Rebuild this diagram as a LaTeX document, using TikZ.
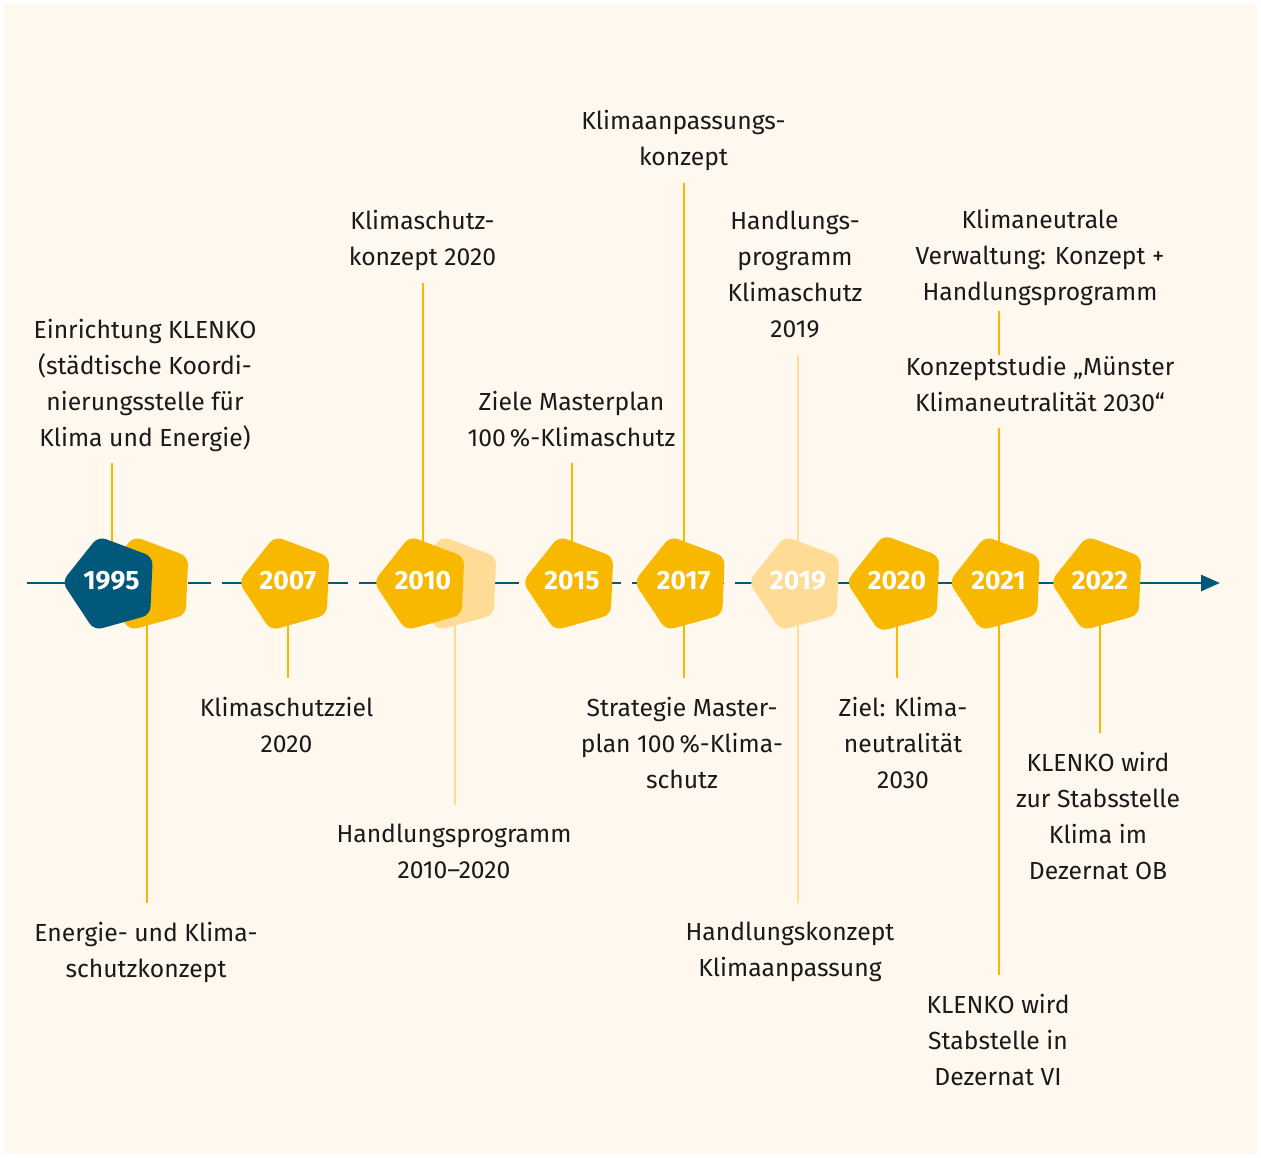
\documentclass[tikz,border=0pt]{standalone}
\usepackage{fontspec}
\setmainfont{Fira Sans}
\usetikzlibrary{shapes.geometric,arrows.meta}
\definecolor{bgc}{HTML}{FEF8EE}
\definecolor{ylw}{HTML}{F9B800}
\definecolor{lylw}{HTML}{FEDC95}
\definecolor{blu}{HTML}{02587A}
\definecolor{txt}{HTML}{1A1A1A}
\pgfdeclarelayer{bg}\pgfdeclarelayer{back}\pgfsetlayers{bg,back,main}
\begin{document}
\begin{tikzpicture}[x=1pt,y=-1pt,
  pent/.style={regular polygon, regular polygon sides=5, shape border rotate=87.5,
    minimum size=99pt, inner sep=0pt, rounded corners=8pt, fill=ylw, text=white,
    font=\fontsize{26.5}{30}\selectfont\bfseries, text depth=8pt},
  lbl/.style={align=center, inner sep=0pt, text=txt, font=\fontsize{24.7}{36}\selectfont,
    execute at begin node=\strut, execute at end node=\strut},
  conn/.style={draw=ylw, line width=2pt},
  lconn/.style={draw=lylw, line width=2pt},
  axisl/.style={draw=blu, line width=2.6pt},
  up/.style={shorten >=6pt},
  down/.style={shorten >=19pt}]
\useasboundingbox (0,0) rectangle (1261,1158);
\begin{pgfonlayer}{bg}
  \fill[white] (0,0) rectangle (1261,1158);
  \fill[bgc] (4,4) rectangle (1257,1154);
\end{pgfonlayer}

% pentagons
\node[pent] (p1995y) at (147,584) {};
\node[pent, fill=blu] (p1995) at (111.5,584) {1995};
\node[pent] (p2007) at (288,584) {2007};
\node[pent, fill=lylw] (p2010l) at (455,584) {};
\node[pent] (p2010) at (423,584) {2010};
\node[pent] (p2015) at (572,584) {2015};
\node[pent] (p2017) at (683.5,584) {2017};
\node[pent, fill=lylw] (p2019) at (798,584) {2019};
\node[pent] (p2020) at (897,584) {2020};
\node[pent] (p2021) at (998.5,584) {2021};
\node[pent] (p2022) at (1100,584) {2022};

% labels above
\node[lbl, anchor=south] (t1995) at (145,457) {Einrichtung KLENKO\\(städtische Koordi-\\nierungsstelle für\\Klima und Energie)};
\node[lbl, anchor=south] (t2010) at (422.5,277) {Klimaschutz-\\konzept 2020};
\node[lbl, anchor=south] (t2015) at (571.5,457) {Ziele Masterplan\\100\,\%-Klimaschutz};
\node[lbl, anchor=south] (t2017) at (683.5,177) {Klimaanpassungs-\\konzept};
\node[lbl, anchor=south] (t2019) at (795,349) {Handlungs-\\programm\\Klimaschutz\\2019};
\node[lbl, anchor=south] (t2021a) at (1040,312) {Klimaneutrale\\Verwaltung: Konzept +\\Handlungsprogramm};
\node[lbl, anchor=south] (t2021b) at (1040,422) {Konzeptstudie „Münster\\Klimaneutralität 2030“};

% labels below
\node[lbl, anchor=north] (b1995) at (146,922) {Energie- und Klima-\\schutzkonzept};
\node[lbl, anchor=north] (b2007) at (286.5,697) {Klimaschutzziel\\2020};
\node[lbl, anchor=north] (b2010) at (454,824) {Handlungsprogramm\\2010–2020};
\node[lbl, anchor=north] (b2017) at (682,697) {Strategie Master-\\plan 100\,\%-Klima-\\schutz};
\node[lbl, anchor=north] (b2019) at (790,922) {Handlungskonzept\\Klimaanpassung};
\node[lbl, anchor=north] (b2020) at (903,697) {Ziel: Klima-\\neutralität\\2030};
\node[lbl, anchor=north] (b2021) at (998,994) {KLENKO wird\\Stabstelle in\\Dezernat VI};
\node[lbl, anchor=north] (b2022) at (1098,752) {KLENKO wird\\zur Stabsstelle\\Klima im\\Dezernat OB};

\coordinate (axs) at (27,583);
\coordinate (axe) at (1220,583);

\begin{pgfonlayer}{back}
  % axis
  \draw[axisl] (axs) -- (axs -| p1995.center);
  \draw[axisl, dash pattern=on 23.2pt off 11pt, dash phase=26.6pt] (axs -| p1995.center) -- (axs -| p2019.center);
  \draw[axisl, -{Triangle[length=19pt,width=16pt]}] (axs -| p2019.center) -- (axe);
  % connectors above
  \draw[conn, up] (p1995.center) -- (p1995.center |- t1995.south);
  \draw[conn, up] (p2010.center) -- (p2010.center |- t2010.south);
  \draw[conn, up] (p2015.center) -- (p2015.center |- t2015.south);
  \draw[conn, up] (p2017.center) -- (p2017.center |- t2017.south);
  \draw[lconn, up] (p2019.center) -- (p2019.center |- t2019.south);
  \draw[conn, up] (p2021.center) -- (p2021.center |- t2021b.south);
  \draw[conn, shorten <=-1pt, shorten >=1pt] (p2021.center |- t2021a.south) -- (p2021.center |- t2021b.north);
  % connectors below
  \draw[conn, down] (p1995y.center) -- (p1995y.center |- b1995.north);
  \draw[conn, down] (p2007.center) -- (p2007.center |- b2007.north);
  \draw[lconn, down] (p2010l.center) -- (p2010l.center |- b2010.north);
  \draw[conn, down] (p2017.center) -- (p2017.center |- b2017.north);
  \draw[lconn, down] (p2019.center) -- (p2019.center |- b2019.north);
  \draw[conn, down] (p2020.center) -- (p2020.center |- b2020.north);
  \draw[conn, down] (p2021.center) -- (p2021.center |- b2021.north);
  \draw[conn, down] (p2022.center) -- (p2022.center |- b2022.north);
\end{pgfonlayer}
\end{tikzpicture}
\end{document}
